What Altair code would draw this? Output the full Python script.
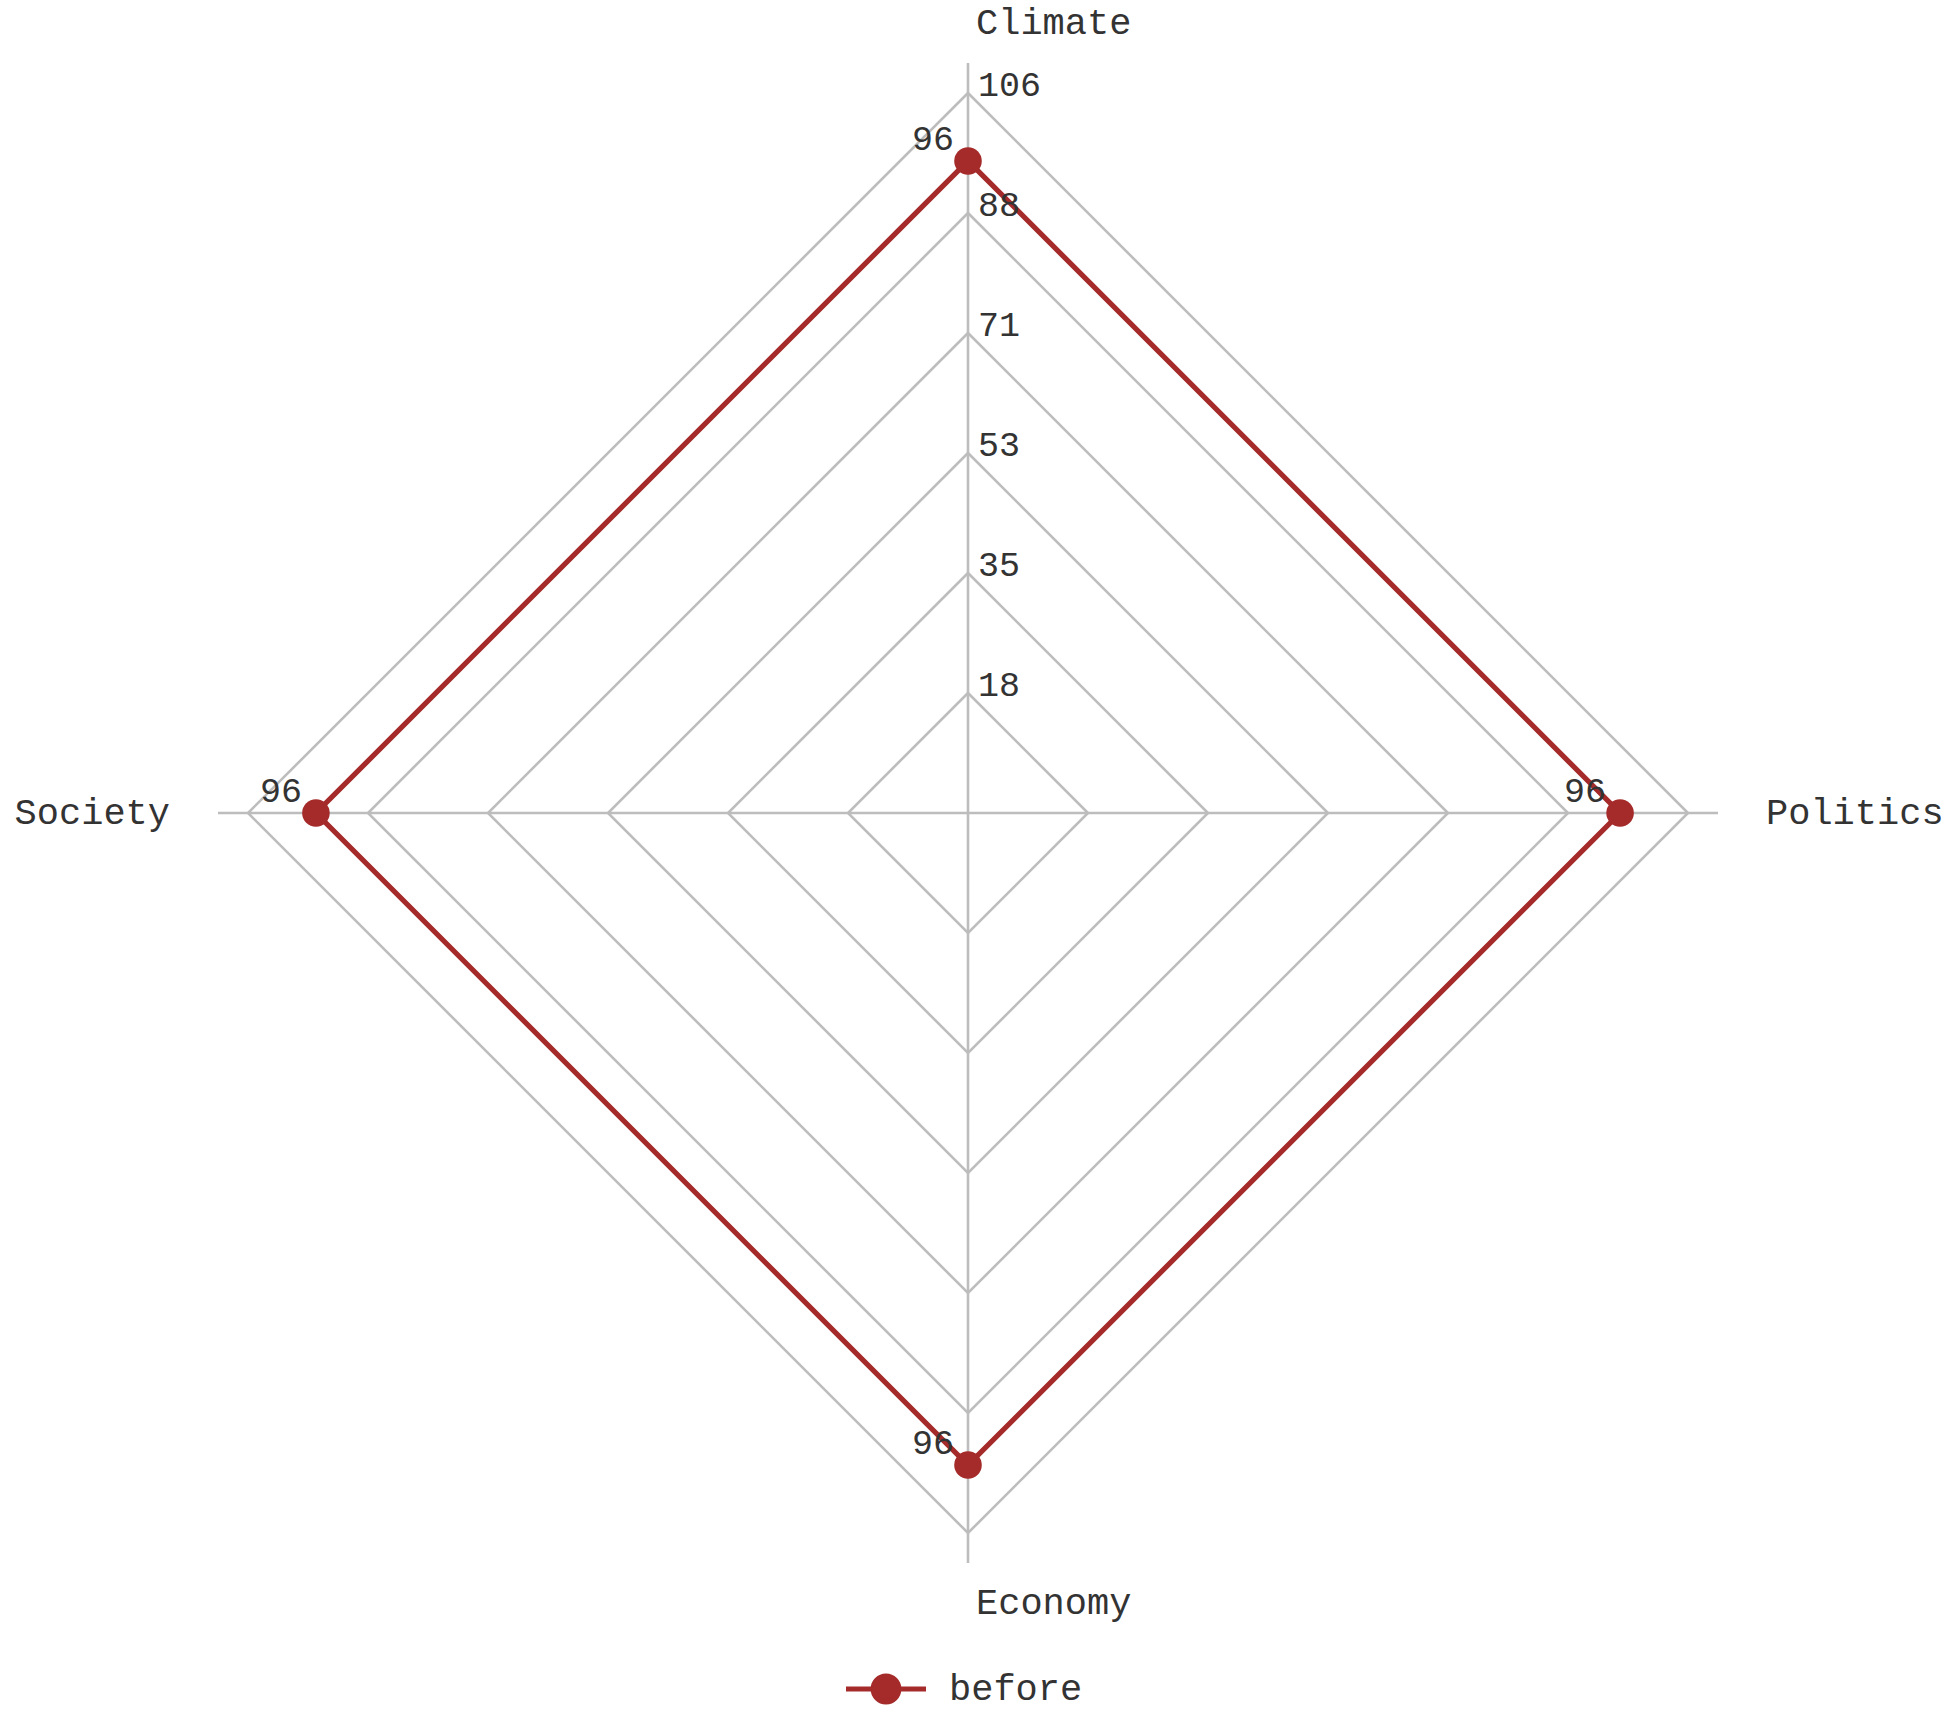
import altair as alt
import pandas as pd
import numpy as np

# ---- data ----
categories = ["Climate", "Politics", "Economy", "Society"]
before_values = [96, 96, 96, 96]
max_value = 106
tick_labels = ["18", "35", "53", "71", "88", "106"]
series_name = "before"

# ---- layout helpers ----
W, H = 1960, 1713
cx, cy = 968, 813
radius_px = 720
ppu = radius_px / max_value
x_dom = [-cx / ppu, (W - cx) / ppu]
y_dom = [-(H - cy) / ppu, cy / ppu]
xs = alt.Scale(domain=x_dom, nice=False, zero=False)
ys = alt.Scale(domain=y_dom, nice=False, zero=False)

n = len(categories)
angles = [np.pi / 2 - 2 * np.pi * i / n for i in range(n)]
n_levels = len(tick_labels)
levels = [max_value * (k + 1) / n_levels for k in range(n_levels)]

grid_rows = []
for k, lv in enumerate(levels):
    for i in range(n + 1):
        a = angles[i % n]
        grid_rows.append({"level": k, "order": i, "x": lv * np.cos(a), "y": lv * np.sin(a)})
grid_df = pd.DataFrame(grid_rows)

axis_len = max_value * 750 / 720
axis_df = pd.DataFrame({
    "cat": categories,
    "x0": [0.0] * n, "y0": [0.0] * n,
    "x1": [axis_len * np.cos(a) for a in angles],
    "y1": [axis_len * np.sin(a) for a in angles],
})

series_rows = []
for i in range(n + 1):
    a = angles[i % n]
    v = before_values[i % n]
    series_rows.append({"series": series_name, "order": i, "cat": categories[i % n],
                        "value": v, "x": v * np.cos(a), "y": v * np.sin(a)})
series_df = pd.DataFrame(series_rows)
points_df = series_df.iloc[:n]

tick_df = pd.DataFrame({"label": tick_labels, "x": [0.0] * n_levels, "y": levels})

label_r = max_value * 790 / 720
cat_df = pd.DataFrame({
    "cat": categories,
    "x": [label_r * np.cos(a) for a in angles],
    "y": [label_r * np.sin(a) for a in angles],
})

FONT = "Liberation Mono"
TXT = "#333333"
GRID = "#bdbdbd"
RED = "#a52a2a"

grid = alt.Chart(grid_df).mark_line(color=GRID, strokeWidth=2.6).encode(
    x=alt.X("x:Q", scale=xs, axis=None),
    y=alt.Y("y:Q", scale=ys, axis=None),
    detail="level:N",
    order="order:Q",
)

axes = alt.Chart(axis_df).mark_rule(color=GRID, strokeWidth=2.6).encode(
    x=alt.X("x0:Q", scale=xs, axis=None),
    y=alt.Y("y0:Q", scale=ys, axis=None),
    x2="x1:Q",
    y2="y1:Q",
)

ticks = alt.Chart(tick_df).mark_text(
    align="left", baseline="alphabetic", dx=10, dy=3, font=FONT, fontSize=35, color=TXT
).encode(
    x=alt.X("x:Q", scale=xs, axis=None),
    y=alt.Y("y:Q", scale=ys, axis=None),
    text="label:N",
)

legend_symbol = "M-1,0H1M-0.32,0A0.32,0.32 0 1,1 0.32,0A0.32,0.32 0 1,1 -0.32,0Z"

line = alt.Chart(series_df).mark_line(strokeWidth=5.2).encode(
    x=alt.X("x:Q", scale=xs, axis=None),
    y=alt.Y("y:Q", scale=ys, axis=None),
    order="order:Q",
    color=alt.Color(
        "series:N",
        scale=alt.Scale(domain=[series_name], range=[RED]),
        legend=alt.Legend(
            title=None, orient="none", legendX=843, legendY=1646, padding=0,
            symbolType=legend_symbol, symbolSize=6400, symbolStrokeWidth=5.2,
            symbolFillColor=RED, symbolStrokeColor=RED,
            labelFont=FONT, labelFontSize=37, labelColor=TXT, labelOffset=20,
        ),
    ),
)

points = alt.Chart(points_df).mark_point(filled=True, size=760, color=RED, opacity=1).encode(
    x=alt.X("x:Q", scale=xs, axis=None),
    y=alt.Y("y:Q", scale=ys, axis=None),
)

value_labels = alt.Chart(points_df).mark_text(
    align="right", baseline="alphabetic", dx=-14, dy=-11, font=FONT, fontSize=35, color=TXT
).encode(
    x=alt.X("x:Q", scale=xs, axis=None),
    y=alt.Y("y:Q", scale=ys, axis=None),
    text="value:Q",
)

cat_left = alt.Chart(cat_df).transform_filter(alt.datum.cat != "Society").mark_text(
    align="left", baseline="middle", dx=8, font=FONT, fontSize=37, color=TXT
).encode(
    x=alt.X("x:Q", scale=xs, axis=None),
    y=alt.Y("y:Q", scale=ys, axis=None),
    text="cat:N",
)
cat_right = alt.Chart(cat_df).transform_filter(alt.datum.cat == "Society").mark_text(
    align="right", baseline="middle", dx=-8, font=FONT, fontSize=37, color=TXT
).encode(
    x=alt.X("x:Q", scale=xs, axis=None),
    y=alt.Y("y:Q", scale=ys, axis=None),
    text="cat:N",
)

chart = alt.layer(grid, axes, line, points, ticks, value_labels, cat_left, cat_right).properties(
    width=W, height=H, autosize=alt.AutoSizeParams(type="none"), padding=0,
    background="white",
).configure_view(stroke=None)

chart.save("out.html", embed_options={"renderer": "svg", "actions": False})
